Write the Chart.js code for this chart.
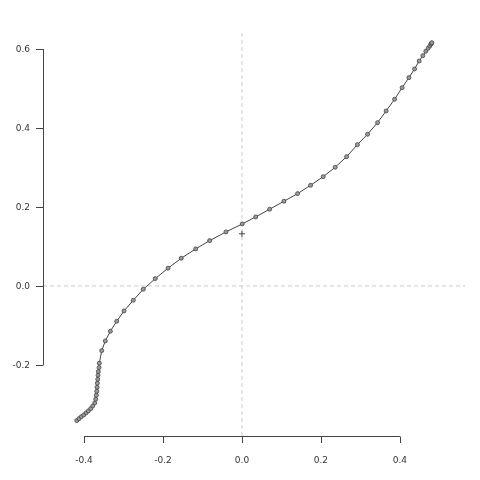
<!DOCTYPE html>
<html>
<head>
    <script src="https://cdn.jsdelivr.net/npm/chart.js@4.4.1/dist/chart.umd.min.js"></script>
    <title>Curve</title>
    <style>
        body { margin: 0; background: #fff; }
        #wrap { width: 480px; height: 480px; }
    </style>
</head>
<body>
<div id="wrap"><canvas id="myChart" width="480" height="480"></canvas></div>

<script>
    // curve points
    var xVals = [-0.4185, -0.4127, -0.4068, -0.4008, -0.3949, -0.3891, -0.3830, -0.3780, -0.3729,
        -0.3704, -0.3689, -0.3678, -0.3671, -0.3663, -0.3653, -0.3646, -0.3638, -0.3620, -0.3613,
        -0.3552, -0.3461, -0.3334, -0.3172, -0.2987, -0.2752, -0.2499, -0.2195, -0.1873, -0.1537,
        -0.1172, -0.0818, -0.0405, 0.0008, 0.0347, 0.0701, 0.1063, 0.1410, 0.1739, 0.2058, 0.2362,
        0.2651, 0.2924, 0.3182, 0.3435, 0.3653, 0.3866, 0.4058, 0.4228, 0.4372, 0.4489, 0.4582,
        0.4658, 0.4716, 0.4759, 0.4785, 0.4803, 0.4810];
    var yVals = [-0.341, -0.336, -0.331, -0.3266, -0.3215, -0.3165, -0.3106, -0.3038, -0.2962,
        -0.2868, -0.2767, -0.2666, -0.2565, -0.2463, -0.2362, -0.2261, -0.2170, -0.2068, -0.1957,
        -0.1638, -0.1392, -0.1147, -0.0894, -0.0633, -0.0362, -0.0084, 0.0185, 0.0448, 0.0701,
        0.0937, 0.1147, 0.1367, 0.1570, 0.1747, 0.1942, 0.2144, 0.2337, 0.2549, 0.2767, 0.3005,
        0.3273, 0.3577, 0.3841, 0.4134, 0.4430, 0.4727, 0.5020, 0.5273, 0.5494, 0.5696, 0.5830,
        0.5942, 0.6018, 0.6076, 0.6119, 0.6144, 0.6159];

    // the single "+" mark
    var crossX = [0.0];
    var crossY = [0.132];

    var xTicks = [-0.4, -0.2, 0.0, 0.2, 0.4];
    var yTicks = [-0.2, 0.0, 0.2, 0.4, 0.6];

    var xMin = -0.504, xMax = 0.565;
    var yMin = -0.38, yMax = 0.648;

    var curvePts = xVals.map(function (v, i) { return { x: v, y: yVals[i] }; });
    var crossPts = crossX.map(function (v, i) { return { x: v, y: crossY[i] }; });

    // R style detached axes, drawn from the scales
    var rAxes = {
        id: 'rAxes',
        afterDraw: function (chart) {
            var ctx = chart.ctx;
            var xs = chart.scales.x, ys = chart.scales.y;
            var left = chart.chartArea.left, bottom = chart.chartArea.bottom;
            ctx.save();
            ctx.strokeStyle = '#444';
            ctx.lineWidth = 1;
            ctx.fillStyle = '#333';
            ctx.font = '9px "DejaVu Sans"';

            // y axis
            var y0 = ys.getPixelForValue(yTicks[0]);
            var y1 = ys.getPixelForValue(yTicks[yTicks.length - 1]);
            ctx.beginPath();
            ctx.moveTo(left + 0.5, y0);
            ctx.lineTo(left + 0.5, y1);
            yTicks.forEach(function (t) {
                var p = Math.round(ys.getPixelForValue(t)) + 0.5;
                ctx.moveTo(left + 0.5, p);
                ctx.lineTo(left - 7, p);
            });
            ctx.stroke();
            ctx.textAlign = 'right';
            ctx.textBaseline = 'middle';
            yTicks.forEach(function (t) {
                ctx.fillText(t.toFixed(1), left - 13, ys.getPixelForValue(t) + 1);
            });

            // x axis
            var x0 = xs.getPixelForValue(xTicks[0]);
            var x1 = xs.getPixelForValue(xTicks[xTicks.length - 1]);
            ctx.beginPath();
            ctx.moveTo(x0, bottom + 0.5);
            ctx.lineTo(x1, bottom + 0.5);
            xTicks.forEach(function (t) {
                var p = Math.round(xs.getPixelForValue(t)) + 0.5;
                ctx.moveTo(p, bottom + 0.5);
                ctx.lineTo(p, bottom + 7);
            });
            ctx.stroke();
            ctx.textAlign = 'center';
            ctx.textBaseline = 'middle';
            xTicks.forEach(function (t) {
                ctx.fillText(t.toFixed(1), xs.getPixelForValue(t), bottom + 25);
            });
            ctx.restore();
        }
    };

    var ctx = document.getElementById('myChart').getContext('2d');
    var myChart = new Chart(ctx, {
        type: 'scatter',
        data: {
            datasets: [
                {
                    // dashed zero lines
                    data: [{ x: xMin, y: 0 }, { x: xMax, y: 0 }],
                    showLine: true,
                    borderColor: '#cccccc',
                    borderWidth: 1,
                    borderDash: [4, 3],
                    pointRadius: 0,
                    order: 3
                },
                {
                    data: [{ x: 0, y: yMin }, { x: 0, y: yMax }],
                    showLine: true,
                    borderColor: '#cccccc',
                    borderWidth: 1,
                    borderDash: [4, 3],
                    pointRadius: 0,
                    order: 3
                },
                {
                    data: curvePts,
                    showLine: true,
                    borderColor: '#444444',
                    borderWidth: 1,
                    pointRadius: 2,
                    pointBackgroundColor: '#9a9a9a',
                    pointBorderColor: '#444444',
                    pointBorderWidth: 0.8,
                    order: 1
                },
                {
                    data: crossPts,
                    pointStyle: 'cross',
                    pointRadius: 3,
                    pointBorderColor: '#444444',
                    pointBorderWidth: 1,
                    order: 0
                }
            ]
        },
        options: {
            responsive: false,
            animation: false,
            layout: { padding: { left: 43, right: 15, top: 30, bottom: 44 } },
            scales: {
                x: { type: 'linear', min: xMin, max: xMax, display: false },
                y: { type: 'linear', min: yMin, max: yMax, display: false }
            },
            plugins: {
                legend: { display: false },
                title: { display: false },
                tooltip: { enabled: false }
            }
        },
        plugins: [rAxes]
    });
</script>
</body>
</html>
